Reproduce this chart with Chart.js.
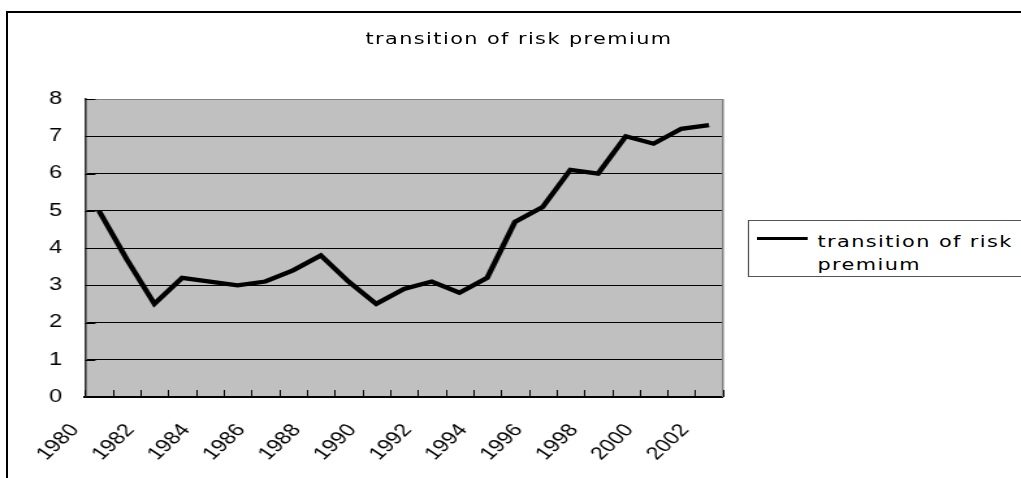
<!DOCTYPE html>
<html>
<head>
<meta charset="utf-8">
<script src="https://cdn.jsdelivr.net/npm/chart.js@4.4.1/dist/chart.umd.min.js"></script>
<style>
  html, body { margin:0; padding:0; background:#fff; width:1021px; height:478px; overflow:hidden; }
  #frame { position:absolute; left:6px; top:11px; width:1100px; height:600px; border:2px solid #000; box-sizing:border-box; }
  #stage { position:absolute; left:0; top:0; width:785px; height:478px; transform:scaleX(1.3006); transform-origin:0 0; }
  #chart { position:absolute; left:0; top:0; }
  #title { position:absolute; top:29px; left:281px; white-space:nowrap; font-family:"DejaVu Sans"; font-size:16px; letter-spacing:1.1px; line-height:20px; color:#000; }
  #legend { position:absolute; left:574.6px; top:220px; width:320px; height:55px; border:1px solid #555; background:#fff; }
  #legendLine { position:absolute; left:6.7px; top:15.5px; width:39.2px; height:3px; background:#000; }
  #legendText { position:absolute; left:52.9px; top:9px; width:165px; font-family:"DejaVu Sans"; font-size:16px; letter-spacing:1.1px; line-height:23px; color:#000; }
</style>
</head>
<body>
<div id="frame"></div>
<div id="stage">
  <canvas id="chart" width="785" height="478"></canvas>
  <div id="title"></div>
  <div id="legend"><div id="legendLine"></div><div id="legendText"></div></div>
</div>
<script>
// ---- data ----
const chartTitle = "transition of risk premium";
const seriesName = "transition of risk premium";
const years = ["1980","1981","1982","1983","1984","1985","1986","1987","1988","1989","1990","1991",
               "1992","1993","1994","1995","1996","1997","1998","1999","2000","2001","2002"];
const riskPremium = [5.0, 3.7, 2.5, 3.2, 3.1, 3.0, 3.1, 3.4, 3.8, 3.1, 2.5, 2.9,
                     3.1, 2.8, 3.2, 4.7, 5.1, 6.1, 6.0, 7.0, 6.8, 7.2, 7.3];
const shownYearLabels = ["1980","1982","1984","1986","1988","1990","1992","1994","1996","1998","2000","2002"];
const yMin = 0, yMax = 8, yStep = 1;

document.getElementById('title').textContent = chartTitle;
document.getElementById('legendText').textContent = seriesName;

const plotBg = {
  id: 'plotBg',
  beforeDraw(chart) {
    const {ctx, chartArea: a} = chart;
    ctx.save();
    ctx.fillStyle = '#c0c0c0';
    ctx.fillRect(a.left, a.top, a.right - a.left, a.bottom - a.top);
    ctx.restore();
  }
};

const innerTicks = {
  id: 'innerTicks',
  beforeDatasetsDraw(chart) {
    const {ctx, chartArea: a, scales} = chart;
    const xs = scales.x, ys = scales.y;
    ctx.save();
    ctx.strokeStyle = '#808080';
    ctx.lineWidth = 1.5;
    ctx.beginPath();
    ctx.moveTo(a.right, a.top);
    ctx.lineTo(a.right, a.bottom);
    ctx.stroke();
    ctx.strokeStyle = '#000';
    ctx.lineWidth = 1;
    const half = (xs.getPixelForValue(1) - xs.getPixelForValue(0)) / 2;
    for (let i = 0; i <= years.length; i++) {
      const x = Math.round(xs.getPixelForValue(i) - half) + 0.5;
      ctx.beginPath();
      ctx.moveTo(x, a.bottom);
      ctx.lineTo(x, a.bottom - 7);
      ctx.stroke();
    }
    for (let v = yMin; v <= yMax; v += yStep) {
      const y = Math.round(ys.getPixelForValue(v)) + 0.5;
      ctx.beginPath();
      ctx.moveTo(a.left, y);
      ctx.lineTo(a.left + 8, y);
      ctx.stroke();
    }
    ctx.restore();
  }
};

const tickFont = { family: 'Liberation Sans', size: 18 };

new Chart(document.getElementById('chart'), {
  type: 'line',
  data: {
    labels: years,
    datasets: [{
      label: seriesName,
      data: riskPremium,
      borderColor: '#000',
      borderWidth: 4.3,
      borderJoinStyle: 'miter',
      pointRadius: 0,
      tension: 0,
      fill: false
    }]
  },
  options: {
    responsive: false,
    animation: false,
    devicePixelRatio: 1,
    layout: { padding: { top: 99, left: 0, right: 0, bottom: 0 } },
    plugins: { legend: { display: false }, title: { display: false }, tooltip: { enabled: false } },
    scales: {
      x: {
        type: 'category',
        offset: true,
        grid: { display: false },
        border: { display: true, color: '#000', width: 2 },
        ticks: {
          autoSkip: false,
          maxRotation: 50,
          minRotation: 50,
          padding: 15,
          labelOffset: -18.5,
          color: '#000',
          font: tickFont,
          callback: function(value, index) { return shownYearLabels.includes(years[index]) ? years[index] : ''; }
        },
        afterFit(scale) { scale.height = 81; }
      },
      y: {
        min: yMin,
        max: yMax,
        grid: {
          drawTicks: false,
          lineWidth: 1,
          color: (c) => (c.tick && c.tick.value === yMax) ? '#808080' : '#000'
        },
        border: { display: true, color: '#333', width: 1.6 },
        ticks: { stepSize: yStep, padding: 17.7, color: '#000', font: tickFont },
        afterFit(scale) { scale.width = 65.4; }
      },
      yRight: {
        position: 'right',
        min: 0, max: 1,
        grid: { display: false },
        border: { display: false },
        ticks: { display: false },
        afterFit(scale) { scale.width = 229.2; }
      }
    }
  },
  plugins: [plotBg, innerTicks]
});
</script>
</body>
</html>
